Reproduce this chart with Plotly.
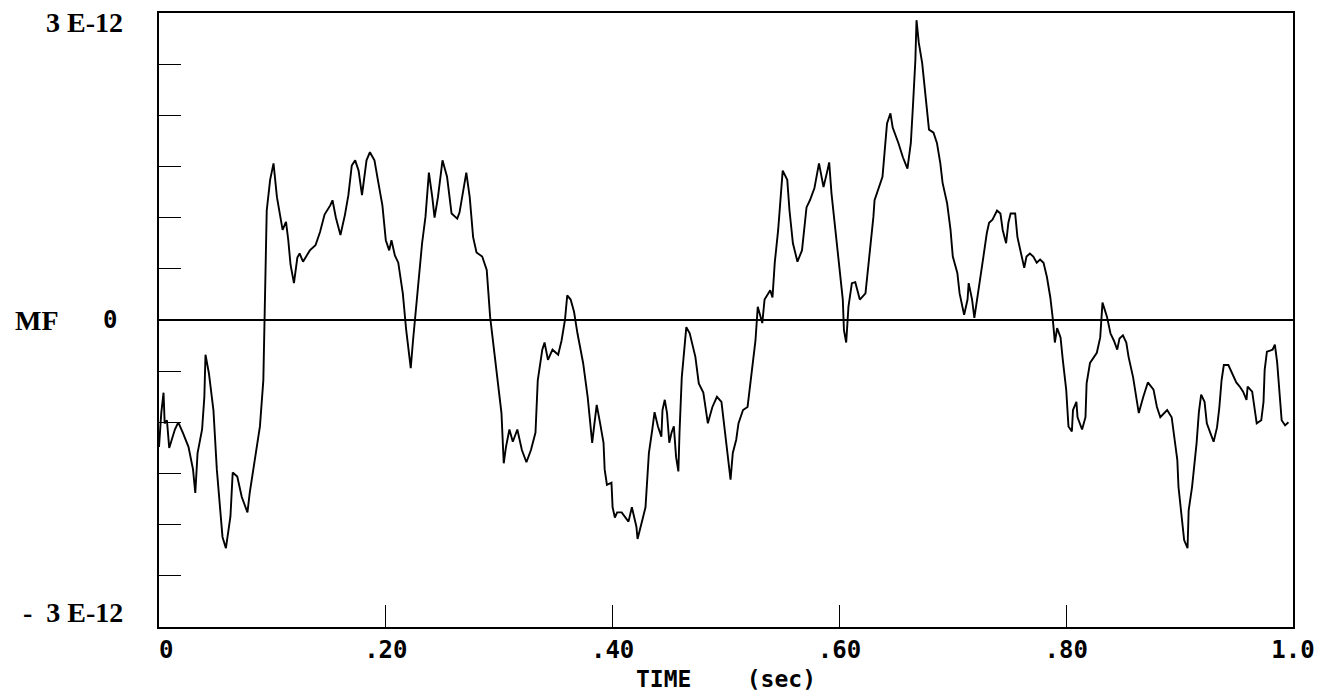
import numpy as np
import plotly.graph_objects as go

# time (sec)
t = [0.000, 0.002, 0.004, 0.005, 0.007, 0.009, 0.014, 0.017, 0.021, 0.026,
     0.030, 0.032, 0.034, 0.038, 0.040, 0.041, 0.044, 0.048, 0.051, 0.054,
     0.056, 0.059, 0.061, 0.063, 0.065, 0.069, 0.073, 0.078, 0.080, 0.083,
     0.086, 0.089, 0.092, 0.093, 0.094, 0.095, 0.098, 0.101, 0.104, 0.107,
     0.109, 0.112, 0.114, 0.116, 0.119, 0.122, 0.124, 0.127, 0.130, 0.133,
     0.138, 0.142, 0.146, 0.151, 0.153, 0.156, 0.160, 0.164, 0.167, 0.170,
     0.173, 0.176, 0.179, 0.183, 0.186, 0.190, 0.193, 0.197, 0.200, 0.203,
     0.205, 0.208, 0.211, 0.215, 0.218, 0.222, 0.224, 0.228, 0.232, 0.235,
     0.238, 0.241, 0.243, 0.246, 0.250, 0.254, 0.258, 0.263, 0.265, 0.271,
     0.274, 0.277, 0.280, 0.285, 0.289, 0.292, 0.295, 0.299, 0.302, 0.304,
     0.306, 0.309, 0.312, 0.316, 0.320, 0.324, 0.328, 0.332, 0.334, 0.338,
     0.340, 0.343, 0.347, 0.352, 0.355, 0.358, 0.360, 0.363, 0.366, 0.369,
     0.374, 0.378, 0.382, 0.384, 0.386, 0.389, 0.392, 0.393, 0.395, 0.399,
     0.400, 0.402, 0.404, 0.408, 0.411, 0.414, 0.417, 0.419, 0.421, 0.422,
     0.425, 0.427, 0.429, 0.430, 0.432, 0.435, 0.437, 0.440, 0.443, 0.444,
     0.446, 0.448, 0.450, 0.452, 0.454, 0.456, 0.458, 0.459, 0.461, 0.465,
     0.468, 0.473, 0.476, 0.480, 0.483, 0.484, 0.488, 0.492, 0.496, 0.499,
     0.501, 0.504, 0.506, 0.509, 0.511, 0.515, 0.519, 0.520, 0.523, 0.526,
     0.528, 0.532, 0.534, 0.539, 0.541, 0.543, 0.546, 0.548, 0.550, 0.554,
     0.556, 0.559, 0.563, 0.567, 0.571, 0.574, 0.578, 0.582, 0.586, 0.589,
     0.591, 0.593, 0.596, 0.599, 0.603, 0.604, 0.606, 0.608, 0.611, 0.614,
     0.618, 0.623, 0.625, 0.628, 0.630, 0.631, 0.634, 0.638, 0.640, 0.642,
     0.645, 0.647, 0.652, 0.656, 0.660, 0.663, 0.665, 0.667, 0.668, 0.670,
     0.673, 0.675, 0.677, 0.679, 0.683, 0.686, 0.689, 0.691, 0.695, 0.698,
     0.700, 0.704, 0.706, 0.710, 0.713, 0.714, 0.717, 0.719, 0.721, 0.724,
     0.727, 0.730, 0.732, 0.735, 0.739, 0.742, 0.744, 0.747, 0.749, 0.751,
     0.755, 0.757, 0.761, 0.763, 0.765, 0.768, 0.771, 0.774, 0.777, 0.780,
     0.783, 0.786, 0.788, 0.790, 0.792, 0.795, 0.797, 0.800, 0.802, 0.805,
     0.806, 0.809, 0.810, 0.814, 0.817, 0.818, 0.821, 0.824, 0.827, 0.830,
     0.831, 0.832, 0.836, 0.839, 0.842, 0.845, 0.847, 0.850, 0.853, 0.855,
     0.859, 0.862, 0.864, 0.868, 0.872, 0.877, 0.880, 0.883, 0.889, 0.893,
     0.895, 0.898, 0.899, 0.902, 0.904, 0.907, 0.908, 0.911, 0.913, 0.915,
     0.917, 0.919, 0.922, 0.924, 0.927, 0.930, 0.933, 0.935, 0.937, 0.939,
     0.943, 0.946, 0.950, 0.953, 0.956, 0.959, 0.960, 0.964, 0.966, 0.968,
     0.972, 0.974, 0.975, 0.977, 0.982, 0.984, 0.986, 0.988, 0.990, 0.993,
     0.996]

# MF values in units of 1E-12
mf_e12 = [-1.24, -0.91, -0.71, -1.01, -0.98, -1.25, -1.07, -1.00, -1.10, -1.24,
          -1.46, -1.69, -1.30, -1.07, -0.75, -0.34, -0.52, -0.88, -1.46, -1.86,
          -2.12, -2.23, -2.08, -1.92, -1.49, -1.53, -1.73, -1.88, -1.69, -1.46,
          -1.24, -1.04, -0.59, 0.00, 0.56, 1.07, 1.37, 1.53, 1.20, 1.01,
          0.88, 0.96, 0.78, 0.54, 0.36, 0.61, 0.65, 0.57, 0.63, 0.68,
          0.73, 0.86, 1.03, 1.12, 1.17, 1.00, 0.83, 1.03, 1.22, 1.51,
          1.56, 1.46, 1.22, 1.56, 1.64, 1.56, 1.37, 1.12, 0.78, 0.68,
          0.78, 0.63, 0.56, 0.26, -0.10, -0.47, -0.20, 0.26, 0.75, 1.01,
          1.44, 1.20, 1.00, 1.20, 1.56, 1.40, 1.04, 0.99, 1.05, 1.44,
          1.20, 0.81, 0.66, 0.62, 0.49, 0.03, -0.26, -0.62, -0.91, -1.40,
          -1.24, -1.07, -1.19, -1.07, -1.27, -1.39, -1.27, -1.10, -0.59, -0.29,
          -0.22, -0.39, -0.29, -0.34, -0.20, 0.00, 0.24, 0.20, 0.08, -0.13,
          -0.42, -0.75, -1.20, -1.01, -0.83, -1.01, -1.20, -1.46, -1.61, -1.59,
          -1.83, -1.93, -1.88, -1.88, -1.92, -1.97, -1.83, -1.92, -2.02, -2.14,
          -2.02, -1.92, -1.83, -1.61, -1.30, -1.07, -0.90, -1.04, -1.14, -0.88,
          -0.78, -0.91, -1.20, -1.10, -1.04, -1.34, -1.48, -1.10, -0.56, -0.07,
          -0.13, -0.36, -0.62, -0.71, -0.95, -1.01, -0.85, -0.75, -0.80, -1.07,
          -1.29, -1.56, -1.30, -1.17, -1.01, -0.88, -0.85, -0.75, -0.49, -0.20,
          0.13, -0.03, 0.20, 0.29, 0.22, 0.56, 0.88, 1.14, 1.46, 1.37,
          1.07, 0.75, 0.57, 0.68, 1.10, 1.17, 1.29, 1.53, 1.30, 1.44,
          1.54, 1.24, 0.91, 0.62, 0.20, -0.10, -0.22, 0.13, 0.36, 0.37,
          0.20, 0.26, 0.46, 0.75, 1.01, 1.17, 1.27, 1.40, 1.66, 1.92,
          2.02, 1.88, 1.73, 1.59, 1.48, 1.73, 2.12, 2.54, 2.93, 2.71,
          2.51, 2.28, 2.08, 1.86, 1.83, 1.73, 1.53, 1.34, 1.14, 0.88,
          0.62, 0.46, 0.26, 0.05, 0.20, 0.36, 0.20, 0.02, 0.17, 0.42,
          0.62, 0.85, 0.95, 0.98, 1.07, 1.04, 0.88, 0.75, 0.95, 1.04,
          1.04, 0.81, 0.62, 0.51, 0.62, 0.65, 0.62, 0.56, 0.59, 0.56,
          0.42, 0.22, 0.03, -0.22, -0.08, -0.17, -0.39, -0.68, -1.04, -1.09,
          -0.88, -0.80, -0.95, -1.07, -0.95, -0.62, -0.42, -0.37, -0.32, -0.17,
          0.03, 0.17, 0.03, -0.13, -0.20, -0.29, -0.18, -0.15, -0.22, -0.36,
          -0.56, -0.75, -0.91, -0.75, -0.61, -0.68, -0.85, -0.95, -0.88, -0.95,
          -1.10, -1.37, -1.63, -1.93, -2.15, -2.23, -1.86, -1.63, -1.44, -1.20,
          -0.90, -0.73, -0.80, -1.01, -1.10, -1.19, -1.05, -0.86, -0.59, -0.44,
          -0.44, -0.52, -0.61, -0.65, -0.70, -0.78, -0.65, -0.70, -0.88, -1.01,
          -0.98, -0.80, -0.49, -0.31, -0.29, -0.24, -0.41, -0.75, -0.98, -1.03,
          -1.00]

x_tickvals = [0, 0.2, 0.4, 0.6, 0.8, 1.0]
x_ticktext = ["\u00a00", ".20", ".40", ".60", ".80", "1.0"]
y_tickvals = [-2.5e-12, -2e-12, -1.5e-12, -1e-12, -0.5e-12,
              0.5e-12, 1e-12, 1.5e-12, 2e-12, 2.5e-12]

mf = np.array(mf_e12) * 1e-12

fig = go.Figure()
fig.add_trace(go.Scatter(x=t, y=mf, mode="lines",
                         line=dict(color="black", width=1.9),
                         showlegend=False, hoverinfo="skip"))

mono = "DejaVu Sans Mono"
serif = "Liberation Serif"

fig.update_layout(
    width=1324, height=692,
    margin=dict(l=159, r=31, t=13, b=65),
    paper_bgcolor="white", plot_bgcolor="white",
    xaxis=dict(range=[0, 1.0], showgrid=False, zeroline=False, automargin=False,
               showline=True, mirror=True, linecolor="black", linewidth=2,
               ticks="inside", ticklen=22, tickwidth=1.3, tickcolor="black",
               tickvals=x_tickvals, ticktext=x_ticktext,
               tickfont=dict(family=mono, size=24, color="black", weight="bold"),
               title=dict(text="TIME\u00a0\u00a0\u00a0\u00a0(sec)",
                          font=dict(family=mono, size=23, color="black", weight="bold"),
                          standoff=9)),
    yaxis=dict(range=[-3e-12, 3e-12], showgrid=False, automargin=False,
               zeroline=True, zerolinecolor="black", zerolinewidth=2,
               showline=True, mirror=True, linecolor="black", linewidth=2,
               ticks="inside", ticklen=22, tickwidth=1.3, tickcolor="black",
               tickvals=y_tickvals, showticklabels=False),
)

ann_font = dict(family=serif, size=28, color="black", weight="bold")
fig.add_annotation(xref="paper", yref="y", x=0, y=3e-12, text="3 E-12",
                   showarrow=False, xanchor="right", yanchor="middle",
                   xshift=-34, yshift=-9, font=ann_font)
fig.add_annotation(xref="paper", yref="y", x=0, y=-3e-12, text="-  3 E-12",
                   showarrow=False, xanchor="right", yanchor="middle",
                   xshift=-34, yshift=15, font=ann_font)
fig.add_annotation(xref="paper", yref="y", x=0, y=0, text="MF",
                   showarrow=False, xanchor="left", yanchor="middle",
                   xshift=-146, font=ann_font)
fig.add_annotation(xref="paper", yref="y", x=0, y=0, text="0",
                   showarrow=False, xanchor="right", yanchor="middle",
                   xshift=-40, font=dict(family=mono, size=24, color="black", weight="bold"))

fig.write_html("out.html", config={"displayModeBar": False},
               post_script="document.body.style.margin='0px';")
